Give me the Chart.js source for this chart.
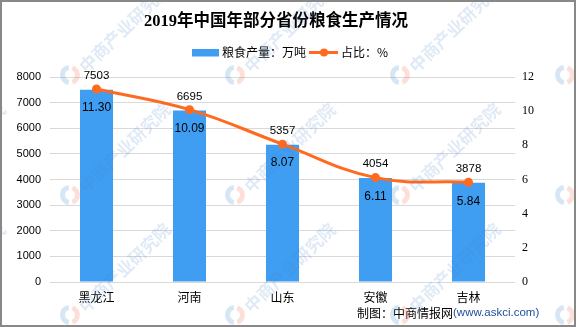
<!DOCTYPE html>
<html>
<head>
<meta charset="utf-8">
<script src="https://cdn.jsdelivr.net/npm/chart.js@4.4.0/dist/chart.umd.min.js"></script>
<style>
    body { margin: 0; background: #fff; }
    #box { width: 576px; height: 327px; }
</style>
</head>
<body>
<div id="box"><canvas id="myChart" width="576" height="327"></canvas></div>
<script>
// datos
const provincias = ['黑龙江', '河南', '山东', '安徽', '吉林'];
const produccion = [7503, 6695, 5357, 4054, 3878];   // 万吨
const porcentaje = [11.30, 10.09, 8.07, 6.11, 5.84]; // %
const ticksIzq = { min: 0, max: 8000, step: 1000 };
const ticksDer = { min: 0, max: 12, step: 2 };

const AZUL = '#3F9EF2';
const NARANJA = '#FF6A1F';
const CJK = '"Noto Sans CJK SC"';

// titulo, leyenda, pie, marca de agua y marco
const decoracion = {
    id: 'decoracion',
    afterDatasetsDraw(chart) {
        const ctx = chart.ctx;
        const barras = chart.getDatasetMeta(0).data;
        const puntos = chart.getDatasetMeta(1).data;
        ctx.save();
        ctx.textAlign = 'center';
        ctx.textBaseline = 'middle';
        ctx.fillStyle = '#000';
        // valores de las barras
        ctx.font = '11.5px "Liberation Sans"';
        barras.forEach((b, i) => {
            ctx.fillText(String(produccion[i]), b.x, b.y - 14);
        });
        // porcentajes debajo del punto
        ctx.font = '12px "Liberation Sans"';
        puntos.forEach((p, i) => {
            ctx.fillText(porcentaje[i].toFixed(2), p.x, p.y + 19);
        });
        ctx.restore();
    },
    afterDraw(chart) {
        const ctx = chart.ctx;
        ctx.save();

        // titulo
        ctx.fillStyle = '#000';
        ctx.textAlign = 'center';
        ctx.textBaseline = 'middle';
        ctx.font = 'bold 16.5px "Liberation Serif", ' + CJK;
        ctx.fillText('2019年中国年部分省份粮食生产情况', 276, 22);

        // leyenda
        ctx.textAlign = 'left';
        ctx.font = '12px ' + CJK;
        ctx.fillStyle = AZUL;
        ctx.fillRect(192, 49, 27, 7.5);
        ctx.fillStyle = '#000';
        ctx.fillText('粮食产量：万吨', 222, 52.5);
        ctx.strokeStyle = NARANJA;
        ctx.lineWidth = 3;
        ctx.beginPath();
        ctx.moveTo(309, 52.5);
        ctx.lineTo(338, 52.5);
        ctx.stroke();
        ctx.fillStyle = NARANJA;
        ctx.beginPath();
        ctx.arc(324, 52.5, 4, 0, Math.PI * 2);
        ctx.fill();
        ctx.fillStyle = '#000';
        ctx.fillText('占比：%', 341, 52.5);

        // pie
        ctx.font = '12px ' + CJK;
        ctx.fillText('制图：中商情报网', 357, 313);
        ctx.fillStyle = '#1F4E9A';
        ctx.font = '11.5px "Liberation Sans"';
        ctx.fillText('(www.askci.com)', 453, 313);

        // marca de agua
        for (let i = -1; i <= 3; i++) {
            for (let j = -1; j <= 2; j++) {
                const x = 70 + 165 * i;
                const y = 75 + 120 * j;
                ctx.lineWidth = 5;
                ctx.strokeStyle = 'rgba(70,140,210,0.22)';
                ctx.beginPath();
                ctx.arc(x, y, 7.5, Math.PI * 0.55, Math.PI * 1.45);
                ctx.stroke();
                ctx.strokeStyle = 'rgba(240,110,80,0.22)';
                ctx.beginPath();
                ctx.arc(x, y, 7.5, Math.PI * 1.6, Math.PI * 2.4);
                ctx.stroke();
                ctx.save();
                ctx.translate(x + 12, y - 6);
                ctx.rotate(-44 * Math.PI / 180);
                ctx.fillStyle = 'rgba(70,130,200,0.17)';
                ctx.font = 'bold 17px ' + CJK;
                ctx.textAlign = 'left';
                ctx.fillText('中商产业研究院', 0, 0);
                ctx.restore();
            }
        }

        // marco
        ctx.strokeStyle = '#888';
        ctx.lineWidth = 2;
        ctx.strokeRect(1, 1, chart.width - 2, chart.height - 2);
        ctx.restore();
    }
};

new Chart('myChart', {
    data: {
        labels: provincias,
        datasets: [{
            type: 'bar',
            label: '粮食产量：万吨',
            data: produccion,
            backgroundColor: AZUL,
            barPercentage: 0.355,
            categoryPercentage: 1,
            yAxisID: 'y',
            order: 1
        }, {
            type: 'line',
            label: '占比：%',
            data: porcentaje,
            borderColor: NARANJA,
            backgroundColor: NARANJA,
            borderWidth: 3,
            pointRadius: 4.5,
            pointBackgroundColor: NARANJA,
            pointBorderWidth: 0,
            tension: 0.4,
            fill: false,
            yAxisID: 'y1',
            order: 0
        }]
    },
    options: {
        responsive: false,
        devicePixelRatio: 1,
        animation: false,
        layout: { padding: { top: 77, left: 0, right: 0, bottom: 0 } },
        plugins: {
            legend: { display: false },
            title: { display: false },
            tooltip: { enabled: false }
        },
        scales: {
            x: {
                grid: { display: false, drawTicks: false },
                border: { display: false },
                ticks: { color: '#000', font: { family: CJK, size: 12 }, padding: 8 },
                afterFit: (s) => { s.height = 45; }
            },
            y: {
                position: 'left',
                min: ticksIzq.min,
                max: ticksIzq.max,
                grid: { color: '#d9d9d9', drawTicks: false },
                border: { display: false },
                ticks: {
                    stepSize: ticksIzq.step,
                    color: '#000',
                    font: { family: 'Liberation Sans', size: 11 },
                    padding: 9,
                    callback: (v) => String(v)
                },
                afterFit: (s) => { s.width = 50; }
            },
            y1: {
                position: 'right',
                min: ticksDer.min,
                max: ticksDer.max,
                grid: { display: false, drawTicks: false },
                border: { display: false },
                ticks: { stepSize: ticksDer.step, color: '#000', font: { family: 'Liberation Serif', size: 12 }, padding: 7 },
                afterFit: (s) => { s.width = 61; }
            }
        }
    },
    plugins: [decoracion]
});
</script>
</body>
</html>
